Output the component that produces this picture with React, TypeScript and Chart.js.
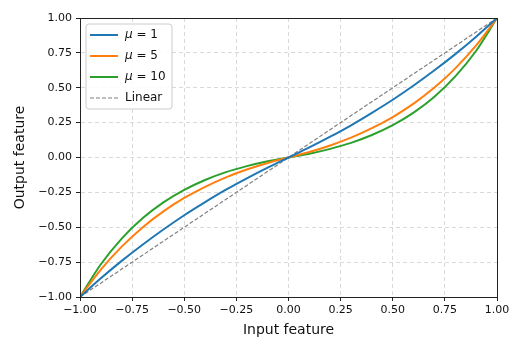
import React, { useEffect, useRef } from "react";
import { Chart, registerables } from "chart.js";

Chart.register(...registerables);

const xs = [-1, -0.9, -0.8, -0.7, -0.6, -0.5, -0.4, -0.3, -0.2, -0.1, 0, 0.1, 0.2, 0.3, 0.4, 0.5, 0.6, 0.7, 0.8, 0.9, 1];
const mu1 = [-1, -0.866, -0.741, -0.625, -0.516, -0.414, -0.32, -0.231, -0.149, -0.072, 0, 0.072, 0.149, 0.231, 0.32, 0.414, 0.516, 0.625, 0.741, 0.866, 1];
const mu5 = [-1, -0.803, -0.639, -0.501, -0.386, -0.29, -0.21, -0.142, -0.086, -0.039, 0, 0.039, 0.086, 0.142, 0.21, 0.29, 0.386, 0.501, 0.639, 0.803, 1];
const mu10 = [-1, -0.765, -0.581, -0.436, -0.322, -0.232, -0.161, -0.105, -0.062, -0.027, 0, 0.027, 0.062, 0.105, 0.161, 0.232, 0.322, 0.436, 0.581, 0.765, 1];
const linearX = [-1, 1];
const linearY = [-1, 1];
const tickValues = [-1, -0.75, -0.5, -0.25, 0, 0.25, 0.5, 0.75, 1];

const seriesLabels = ["1", "5", "10"];
const colors = ["#1f77b4", "#ff7f0e", "#2ca02c"];
const xTitle = "Input feature";
const yTitle = "Output feature";

const fmt = (v: number) => v.toFixed(2).replace("-", "\u2212");

export default function App() {
  const ref = useRef<HTMLCanvasElement | null>(null);
  useEffect(() => {
    document.body.style.margin = "0";
    const canvas = ref.current!;
    const font = "'DejaVu Sans', sans-serif";
    const pts = (ys: number[]) => xs.map((x, i) => ({ x, y: ys[i] }));
    const framePlugin = {
      id: "frame",
      afterDatasetsDraw(chart: any) {
        const { ctx, chartArea: a } = chart;
        ctx.save();
        ctx.strokeStyle = "#222";
        ctx.lineWidth = 1;
        ctx.setLineDash([]);
        ctx.strokeRect(Math.round(a.left) + 0.5, Math.round(a.top) + 0.5, Math.round(a.right - a.left), Math.round(a.bottom - a.top));
        // axis titles
        ctx.fillStyle = "#111";
        ctx.font = `14px ${font}`;
        ctx.textAlign = "center";
        ctx.textBaseline = "middle";
        ctx.fillText(xTitle, (a.left + a.right) / 2, 330);
        ctx.save();
        ctx.translate(20, (a.top + a.bottom) / 2);
        ctx.rotate(-Math.PI / 2);
        ctx.fillText(yTitle, 0, 0);
        ctx.restore();
        ctx.textAlign = "left";
        // legend
        const bx = 86, by = 24, bw = 86, bh = 85, r = 3;
        ctx.beginPath();
        ctx.moveTo(bx + r, by);
        ctx.arcTo(bx + bw, by, bx + bw, by + bh, r);
        ctx.arcTo(bx + bw, by + bh, bx, by + bh, r);
        ctx.arcTo(bx, by + bh, bx, by, r);
        ctx.arcTo(bx, by, bx + bw, by, r);
        ctx.closePath();
        ctx.fillStyle = "rgba(255,255,255,0.85)";
        ctx.fill();
        ctx.strokeStyle = "#cccccc";
        ctx.stroke();
        const rows = [35, 56, 77, 98];
        ctx.textBaseline = "middle";
        for (let i = 0; i < 4; i++) {
          const y = rows[i];
          ctx.beginPath();
          ctx.moveTo(90, y);
          ctx.lineTo(118, y);
          if (i < 3) {
            ctx.strokeStyle = colors[i];
            ctx.lineWidth = 2;
            ctx.setLineDash([]);
          } else {
            ctx.strokeStyle = "#808080";
            ctx.lineWidth = 1.2;
            ctx.setLineDash([4, 2]);
          }
          ctx.stroke();
          ctx.setLineDash([]);
          ctx.fillStyle = "#111";
          if (i < 3) {
            ctx.font = `italic 12px ${font}`;
            ctx.fillText("\u03bc", 125, y);
            const w = ctx.measureText("\u03bc").width;
            ctx.font = `12px ${font}`;
            ctx.fillText(" = " + seriesLabels[i], 125 + w, y);
          } else {
            ctx.font = `12px ${font}`;
            ctx.fillText("Linear", 125, y);
          }
        }
        ctx.restore();
      },
    };
    const gridOpts = { color: "#d9d9d9", tickLength: 4, tickColor: "#222", tickBorderDash: [], tickWidth: 1 };
    const borderOpts = { display: true, color: "#222", dash: [4, 3] };
    const chart = new Chart(canvas, {
      type: "line",
      data: {
        datasets: [
          { label: "mu1", data: pts(mu1), borderColor: colors[0], borderWidth: 2, pointRadius: 0, cubicInterpolationMode: "monotone", fill: false },
          { label: "mu5", data: pts(mu5), borderColor: colors[1], borderWidth: 2, pointRadius: 0, cubicInterpolationMode: "monotone", fill: false },
          { label: "mu10", data: pts(mu10), borderColor: colors[2], borderWidth: 2, pointRadius: 0, cubicInterpolationMode: "monotone", fill: false },
          { label: "Linear", data: linearX.map((x, i) => ({ x, y: linearY[i] })), borderColor: "#808080", borderWidth: 1.2, borderDash: [4, 2], pointRadius: 0, fill: false },
        ],
      },
      options: {
        responsive: false,
        animation: false,
        layout: { padding: { left: 0, right: 29, top: 18, bottom: 0 } },
        plugins: { legend: { display: false }, tooltip: { enabled: false } },
        scales: {
          x: {
            type: "linear",
            min: -1,
            max: 1,
            afterBuildTicks: (s: any) => { s.ticks = tickValues.map((v) => ({ value: v })); },
            afterFit: (s: any) => { s.height = 55; },
            ticks: { callback: (v: any) => fmt(Number(v)), color: "#111", font: { family: font, size: 11 }, padding: 3, maxRotation: 0 },
            grid: gridOpts,
            border: borderOpts,
          },
          y: {
            type: "linear",
            min: -1,
            max: 1,
            afterBuildTicks: (s: any) => { s.ticks = tickValues.map((v) => ({ value: v })); },
            afterFit: (s: any) => { s.width = 80; },
            ticks: { callback: (v: any) => fmt(Number(v)), color: "#111", font: { family: font, size: 11 }, padding: 4 },
            grid: gridOpts,
            border: borderOpts,
          },
        },
      },
      plugins: [framePlugin],
    } as any);
    return () => chart.destroy();
  }, []);
  return (
    <div style={{ width: 526, height: 352 }}>
      <canvas ref={ref} width={526} height={352} style={{ display: "block" }} />
    </div>
  );
}
